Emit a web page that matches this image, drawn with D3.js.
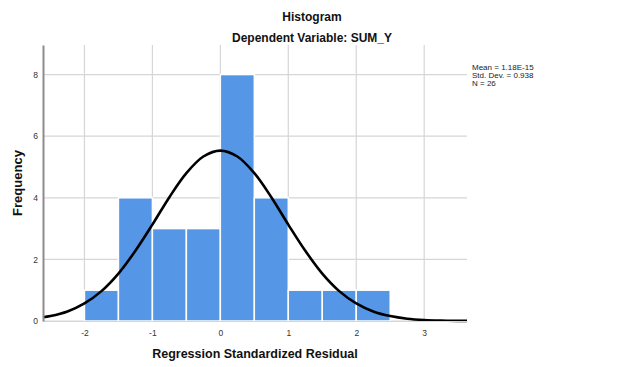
<!DOCTYPE html>
<html>
<head>
<meta charset="utf-8">
<script src="https://cdn.jsdelivr.net/npm/d3@7"></script>
<style>
  body { margin: 0; background: #fff; }
  text { font-family: Arial, "Liberation Sans", sans-serif; }
</style>
</head>
<body>
<div id="chart"></div>
<script>
// histogram bins (lower edge, upper edge, count)
const binStarts = [-2, -1.5, -1, -0.5, 0, 0.5, 1, 1.5, 2]
const binEnds = [-1.5, -1, -0.5, 0, 0.5, 1, 1.5, 2, 2.5]
const counts = [1, 4, 3, 3, 8, 4, 1, 1, 1]

// normal curve
const curveX = [-2.61, -2.5, -2.25, -2, -1.75, -1.5, -1.25, -1, -0.75, -0.5, -0.25, 0,
  0.25, 0.5, 0.75, 1, 1.25, 1.5, 1.75, 2, 2.25, 2.5, 2.75, 3, 3.25, 3.5, 3.63]
const curveY = [0.12, 0.16, 0.31, 0.57, 0.97, 1.54, 2.28, 3.13, 4.02, 4.80, 5.34, 5.53,
  5.34, 4.80, 4.02, 3.13, 2.28, 1.54, 0.97, 0.57, 0.31, 0.16, 0.075, 0.033, 0.014, 0.005, 0.003]

const xTicks = [-2, -1, 0, 1, 2, 3]
const yTicks = [0, 2, 4, 6, 8]
const statsLines = ['Mean = 1.18E-15', 'Std. Dev. = 0.938', 'N = 26']

const W = 624
const H = 367
const margins = { top: 45, right: 157, bottom: 46, left: 43 }
const width = W - margins.left - margins.right
const height = H - margins.top - margins.bottom

const svg = d3.select('#chart')
  .append('svg')
  .attr('width', W)
  .attr('height', H)

const g = svg.append('g')
  .attr('transform', `translate(${margins.left}, ${margins.top})`)

const x = d3.scaleLinear([-2.61, 3.63], [0, width])
const y = d3.scaleLinear([0, 8.96], [height, 0])

// gridlines
g.append('g')
  .selectAll('line')
  .data(xTicks)
  .enter()
  .append('line')
  .attr('x1', d => x(d))
  .attr('x2', d => x(d))
  .attr('y1', 0)
  .attr('y2', height)
  .attr('stroke', '#d6d6d6')
  .attr('stroke-width', 1.2)

g.append('g')
  .selectAll('line')
  .data(yTicks)
  .enter()
  .append('line')
  .attr('x1', 0)
  .attr('x2', width)
  .attr('y1', d => y(d))
  .attr('y2', d => y(d))
  .attr('stroke', '#d6d6d6')
  .attr('stroke-width', 1.2)

// bars
g.append('g')
  .selectAll('rect')
  .data(counts)
  .enter()
  .append('rect')
  .attr('x', (d, i) => x(binStarts[i]))
  .attr('width', (d, i) => x(binEnds[i]) - x(binStarts[i]))
  .attr('y', d => y(d))
  .attr('height', d => y(0) - y(d))
  .attr('fill', '#5596e6')
  .attr('stroke', '#ffffff')
  .attr('stroke-width', 1.5)

// normal curve
g.append('path')
  .datum(curveX.map((v, i) => [v, curveY[i]]))
  .attr('fill', 'none')
  .attr('stroke', '#000')
  .attr('stroke-width', 2.6)
  .attr('d', d3.line()
    .x(d => x(d[0]))
    .y(d => y(d[1]))
    .curve(d3.curveCatmullRom)
  )

// axes
const xAxis = g.append('g')
  .attr('transform', `translate(0, ${height})`)
  .call(d3.axisBottom(x).tickValues(xTicks).tickSize(0).tickPadding(9).tickFormat(d => String(d)))
xAxis.select('.domain').attr('stroke', '#d6d6d6')

const yAxis = g.append('g')
  .call(d3.axisLeft(y).tickValues(yTicks).tickSize(0).tickPadding(5).tickFormat(d => String(d)))
yAxis.select('.domain').attr('stroke', '#8c8c8c').attr('stroke-width', 2)

g.selectAll('.tick text')
  .attr('font-family', 'Arial, "Liberation Sans", sans-serif')
  .attr('font-size', 8.5)
  .attr('fill', '#333')

// titles
svg.append('text')
  .attr('x', 312)
  .attr('y', 21)
  .attr('text-anchor', 'middle')
  .attr('font-size', 12)
  .attr('font-weight', 'bold')
  .attr('fill', '#111')
  .text('Histogram')

svg.append('text')
  .attr('x', 312)
  .attr('y', 42)
  .attr('text-anchor', 'middle')
  .attr('font-size', 12)
  .attr('font-weight', 'bold')
  .attr('fill', '#111')
  .text('Dependent Variable: SUM_Y')

svg.append('text')
  .attr('x', margins.left + width / 2)
  .attr('y', 358)
  .attr('text-anchor', 'middle')
  .attr('font-size', 12.5)
  .attr('font-weight', 'bold')
  .attr('fill', '#111')
  .text('Regression Standardized Residual')

svg.append('text')
  .attr('transform', `translate(22, ${margins.top + height / 2}) rotate(-90)`)
  .attr('text-anchor', 'middle')
  .attr('font-size', 13)
  .attr('font-weight', 'bold')
  .attr('fill', '#111')
  .text('Frequency')

// stats box
svg.append('g')
  .selectAll('text')
  .data(statsLines)
  .enter()
  .append('text')
  .attr('x', 472)
  .attr('y', (d, i) => 70 + i * 8)
  .attr('font-size', 8)
  .attr('fill', '#222')
  .text(d => d)
</script>
</body>
</html>
